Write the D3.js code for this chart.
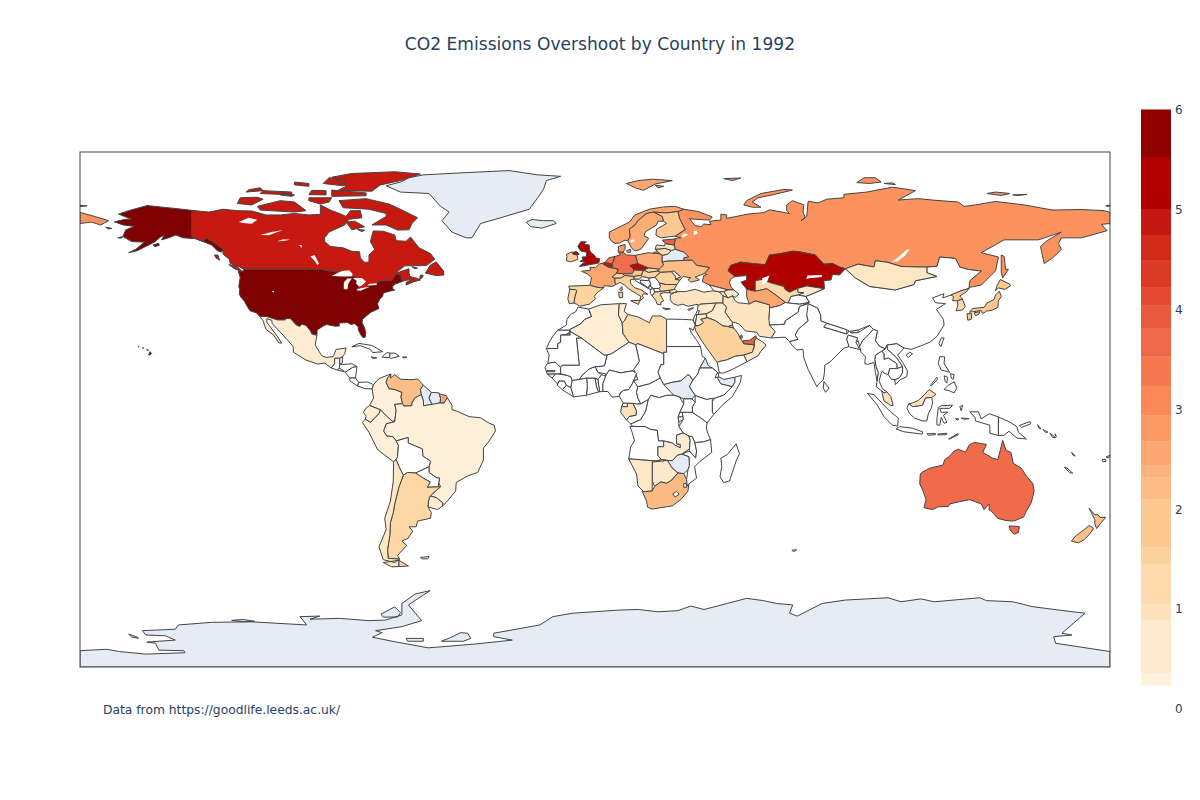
<!DOCTYPE html>
<html>
<head>
<meta charset="utf-8">
<script src="https://cdn.jsdelivr.net/npm/d3@7"></script>
<style>
  body { margin: 0; background: #fff; }
  text { font-family: "DejaVu Sans", Verdana, sans-serif; fill: #2a3f5f; }
</style>
</head>
<body>
<div id="chart"></div>
<script>
const titleText = 'CO2 Emissions Overshoot by Country in 1992';
const noteText = 'Data from https://goodlife.leeds.ac.uk/';

// overshoot values
const emitters = ['USA','Canada','Kazakhstan','UK','Czechia','Belgium','Germany','Netherlands','Estonia','UAE','Australia',
  'Russia','Denmark','Poland','Norway','Sweden','France','Turkmenistan','Ukraine','SouthAfrica','Venezuela','NewZealand',
  'Austria','Finland','Japan','NorthKorea','SaudiArabia','Ireland','Italy','Spain','Switzerland','Hungary','Romania','Bulgaria',
  'Greece','Portugal','Uzbekistan','SouthKorea','Libya','Argentina','Lithuania','Latvia','Malaysia','Gabon','Turkey','Iran',
  'Mongolia','Oman','Chile','Mexico','Namibia','Botswana','Syria','Iraq','Algeria','Zambia','Tunisia','Uruguay','Ecuador',
  'Colombia','Brazil','Peru','Kyrgyzstan','Slovakia','Georgia','Azerbaijan','Armenia','Jordan','Kuwait','Qatar','Slovenia'];
const emitterValues = [6,4.85,5.3,5.3,5.1,4.8,3.6,3.4,3.8,3.8,3.65,
  2.9,2.8,2.5,2.6,2.5,2.6,2.6,2.2,2.25,2.2,2.05,
  2,1.9,1.9,1.8,1.6,1.7,1.6,1.5,1.5,1.5,1.5,1.5,
  1.3,1.3,1.3,1.3,1.2,1.35,1.2,1,1,1,.9,.85,
  .8,.8,.8,.55,.75,.7,.6,.6,.45,.55,.5,.5,.5,
  .4,.4,.4,.7,1.4,.4,.7,.4,.5,1.5,3,1.2];
const noDataCountries = ['Greenland','Antarctica','Iceland','Belarus','Guyana','Suriname','SouthSudan','Eritrea','Somaliland','Zimbabwe','GuineaBissau','WesternSaharaStrip'];

// colorbar levels (value edges of the steps) and ticks
const barLevels = [6,5.52,5,4.74,4.49,4.22,4.04,3.81,3.53,3.23,2.94,2.68,2.44,2.32,2.1,1.62,1.45,1.05,.89,.36,.24];
const barTicks = [0,1,2,3,4,5,6];
const orRd = ['#fff7ec','#fee8c8','#fdd49e','#fdbb84','#fc8d59','#ef6548','#d7301f','#b30000','#7f0000'];

// country outlines as flat lon,lat rings
const shapes = {
USA:[[-124.7,48.4,-123,48.3,-122.8,49,-95.2,49,-94.6,48.7,-92,48.3,-89.6,48,-88.4,48.3,-84.9,46.9,-84.3,46.5,-83.6,46,-82.5,45.3,-82.1,43.6,-82.5,42.6,-83.1,42.1,-82.4,41.7,-79,42.8,-79.2,43.5,-76.8,43.6,-76.3,44.2,-75,45,-71.5,45,-70.8,45.4,-70,46.7,-69.2,47.4,-68.3,47.3,-67.8,47,-67.8,45.7,-67,44.9,-68.5,44.3,-70,43.8,-70.7,43,-70.7,42.2,-70,41.7,-71.5,41.4,-74,40.7,-74.2,39.6,-75.2,38.6,-75.9,37.2,-76,36.9,-75.5,35.3,-77,34.6,-78.5,33.9,-79.9,32.7,-81.3,31.5,-81.4,30.4,-80.5,28.4,-80.1,26.8,-80.3,25.3,-81.1,25.1,-81.8,26,-82.7,27.8,-82.8,29,-84,30,-85.3,29.7,-86.5,30.4,-88,30.3,-89.5,30.2,-89.3,29.2,-90.8,29.1,-93.8,29.7,-94.8,29.3,-97.1,27.8,-97.2,25.9,-99,26.4,-99.5,27.5,-101,29.4,-102.5,29.8,-103.2,29,-104.5,29.6,-106.5,31.8,-108.2,31.8,-108.2,31.3,-111,31.3,-114.8,32.5,-117.1,32.5,-118.4,33.8,-120.6,34.5,-121.9,36.6,-122.5,37.8,-123.8,39.3,-124.3,40.4,-124.2,42,-124.5,43,-124,46.2],
 [-141,69.6,-141,60.3,-137.5,58.9,-135.5,59.8,-133.5,58.5,-130,56,-130.5,55,-132,55.5,-134,57.5,-136,58.3,-139.5,59.7,-144,60,-146.5,61,-149,60,-151.5,59.3,-150.5,61,-152,60.2,-154,58.5,-157,57,-160,55.5,-163,54.8,-160.5,56,-157.5,58.5,-162,58.7,-165,60.5,-164,62.8,-161,64,-165,64.5,-168,65.6,-164,66.5,-162,66.5,-166.5,68.3,-163,69.5,-156.5,71.3,-152,70.8,-146,70.2],
 [-154.5,57.5,-152.5,58.1,-152.3,57.4,-153.8,56.9],[-171,63.7,-168.8,63.3,-170,63.1],[-166.8,60,-165,60.5,-165.5,59.9],
 [-156,19.1,-155.6,20.2,-155,19.7,-155.6,19],[-156.7,20.9,-156,20.8,-156.4,20.6],[-158.2,21.5,-157.7,21.4,-158,21.7],[-159.7,22,-159.3,22.1,-159.5,21.9]],
Canada:[[-141,69.6,-135,69,-130,70,-125,69.5,-120,69.4,-115,68,-110,68,-105,68.5,-100,68,-96,68.2,-96,71.5,-92,69.5,-90,68.8,-87,67.5,-85.5,69.5,-82,69.5,-81.5,67,-86,66.5,-87.5,64.5,-93,62,-94.5,60,-94.5,58.7,-92.5,57,-88,56.5,-85,55.3,-82.3,55.1,-82,53,-80.7,51.5,-79,51.5,-79,54,-77,56,-78.5,58.7,-77.5,62.4,-74,62.3,-70,61,-69.5,59,-66,58.8,-64.5,60.3,-61.5,56.5,-57.5,54.5,-56,52.5,-59,50.3,-66.5,50.2,-70,47.5,-65,49.2,-65,47.8,-64.8,46.5,-62,45.8,-61,45.3,-63.5,44.6,-66,43.5,-66,44.4,-64,45.5,-67,45,-67.8,45.7,-67.8,47,-68.3,47.3,-69.2,47.4,-70,46.7,-70.8,45.4,-71.5,45,-75,45,-76.3,44.2,-76.8,43.6,-79.2,43.5,-79,42.8,-83.1,42.1,-82.5,42.6,-82.1,43.6,-82.5,45.3,-83.6,46,-84.3,46.5,-84.9,46.9,-88.4,48.3,-89.6,48,-92,48.3,-94.6,48.7,-95.2,49,-122.8,49,-124.5,50,-127.5,51,-127.8,52.5,-130,54.3,-130,56,-133.5,58.5,-135.5,59.8,-137.5,58.9,-141,60.3],
 [-128,50.6,-125.3,50.2,-123.5,48.4,-125.5,48.9],[-133,54,-131.8,54,-131.2,52.2,-132.5,53],[-59.3,47.7,-57.5,50.5,-55.5,51.6,-53,48.5,-52.8,47,-55.5,46.8],[-64,49.9,-62,49.4,-63,49.2],[-61,47,-60,46.9,-60.5,45.9,-61.3,45.8],
 [-80,73.7,-72,71.8,-68,70,-62,67,-64,65,-65,62.8,-69,62.7,-73,64.5,-78,64.5,-73,67.5,-73,68.5,-79,70,-88,70.5,-89.5,73],[-87,65.5,-84,65.8,-80.5,63.9,-85,62.8],[-83,62.9,-80.5,62.7,-81.5,62.2],[-117,69.7,-105,69,-101,69.5,-105,72.5,-110,73,-118,71],[-125,72,-120,71.5,-116,73.5,-118,74.2,-124,74],[-117,75.5,-106,75,-106,76,-116,76.5],[-92,74.5,-80,74.7,-80,75.7,-92,76.7],[-90,76.5,-78,76.3,-75,78.5,-68,80,-61,82.3,-70,83.1,-85,82.5,-92,81.2,-87,78],[-95,79,-88,78.2,-87,80.5,-93,81],[-100,73,-96,71.8,-93,72.5,-92,74,-100,74],[-105,78.5,-100,78,-100,79,-105,79.5],[-122,76,-116,76.5,-117,77.5,-121,76.8],[-100,75.1,-94,75,-94,76.5,-99,76.6],[-110,75,-106,74.5,-105,75,-109,75.6]],
Greenland:[[-73,78.2,-68,76,-58,75.5,-54,71,-51,69,-53.5,66,-50,62,-45,60,-43,60,-40,65,-33,67,-23,70,-20,74,-18,77,-17,80,-12,81.5,-20,82,-30,83.5,-45,82.8,-60,82,-65,81,-68,79.5]],
Iceland:[[-24,65.5,-22,66.4,-18,66,-14.5,66,-13.6,65,-18.5,63.4,-22.5,63.9]],
Antarctica:[[-180,-84.3,-170.8,-83.8,-166.2,-84.6,-157,-85.5,-143.3,-85,-143.7,-84.3,-152.4,-84.1,-153.6,-81.7,-156.6,-81.3,-146.7,-80.6,-150.2,-79.1,-157,-78.8,-158.2,-77.3,-146.7,-76.8,-145.6,-75.3,-134.1,-74.4,-120.3,-74.2,-100.8,-75.3,-103.1,-72.4,-96.2,-72.2,-99.6,-73.3,-89.3,-73,-79,-73.8,-73.2,-73.6,-67.5,-71.8,-67.5,-67.8,-62.9,-64.5,-57.6,-63.3,-65.2,-68.3,-60.6,-73.8,-67.5,-75.9,-76.7,-77.3,-74.4,-78,-77.8,-79.6,-69.8,-81.2,-58.3,-83.3,-42.2,-82,-28.9,-80.6,-35.4,-79.4,-35.4,-78.2,-19.3,-75.3,-14.7,-72.4,-7.8,-71.2,8.3,-70.1,15.2,-69.9,22,-70.7,29,-70.3,33.5,-68.7,38.1,-69.9,46.2,-67.8,53,-66,58.8,-66.8,63.4,-67.8,69.1,-68.3,68,-71.2,70.7,-72.2,79.4,-67.8,87.5,-66.6,102.4,-65.8,107,-67.2,113.9,-66.2,118.5,-67.2,134.5,-65.8,136.8,-66.8,146,-67.2,152.9,-68.9,162.1,-70.1,171.3,-71.2,163.2,-78.2,166.7,-78.8,160.3,-79.4,161,-81.7,180,-84.6,180,-90,-180,-90],
 [-53.7,-81,-50,-79.5,-47,-78,-44.5,-78.2,-43.4,-80,-46,-81],[-66,-80,-60,-80,-60,-81,-65.5,-81],[-74.8,-71.5,-70,-69,-68,-71,-69,-72.5,-74,-72.6],[-163,-78.5,-160,-79.5,-159.5,-80,-162,-79.5],[-127,-73.7,-123,-73.4,-119,-74,-123,-74.2]],
Russia:[[28,59.8,30,60,28,60.6,31.5,62.9,29.5,66.9,29,69.2,31,70,36,69.2,41,67.3,40,66.2,35,66.5,33,66.7,35,64.3,37,63.9,38,64.8,40.5,64.6,40,65.8,44,66.2,44,68.3,46,68,46,66.8,53.5,68.3,59,68.8,61,69.8,68,68.5,67,69.6,67,71.5,69,73,73,71.5,72.7,69,73.5,67,72,66,74,67.5,74.5,72.8,78,72.2,81,73.5,87,74,87,75.2,95,76,104,77.7,112,76.5,106,73.2,113,73.7,118,73.2,127,72.5,129,71,133,71.5,140,72.7,150,71.5,160,69.7,170,69.9,178,69.5,180,68.9,180,65,177,64.7,179,62.5,170,60,163,60,162,58,163,56,160,53,157,51,155.7,57,158,59,163,62,155,59.3,143,59.3,135,54.8,141,53.3,140,48.5,135,43.5,131,42.7,130.7,42.3,131,45,135,48.4,130.5,48.9,127.5,49.8,126,52.8,120.5,53.3,119.5,50,116,49.8,113,49.8,107,50,102,51.5,98,52,97.5,49.8,92,50.8,87.5,49.2,85.5,49.8,83,51,80,50.8,77,54,71,55.2,69,55.3,65,54.5,61,54,59.5,50.6,55,51,51,51.5,47.5,50.4,46.5,48.5,49,46.5,48,46,47.5,45.5,47,44.5,47.5,43,48.5,41.8,46.5,41.8,43.5,42.6,40,43.5,37.5,44.7,38,46.8,39.2,47.2,38.2,47.5,40,49.6,35.5,50.4,34,52.2,31,52.1,31,53,32.7,53.4,31,55,28,56,27.7,57.5],
 [-180,68.9,-175,67.5,-170,66,-172.8,64.5,-176,65.5,-180,65],[20,54.4,22.8,54.4,22,55.2,20.5,54.9],[142,54,143,53.5,143.5,49,144.5,49,142.5,46,142,48],[52,71.5,55,70.7,58,70.7,55,72.5,57,74,62,75,69,76.7,66,76.9,58,75.5,53,73],[45,80.7,51,80.9,48,80],[91.5,79.3,96,79,100,79.5,98,81,94,81],[101,79,105,78.6,104,79.2],[137,75.5,140,76,145,75.5,142,74.8],[146,75,151,75.2,148,74.8],[178.5,71.2,180,71.4,180,70.9],[-180,71.4,-177.5,71.2,-180,70.9]],
Norway:[[5.6,59,7,58,8.5,58.2,10.5,59.2,11.5,59,12.3,60.5,12,63,14,64.5,15,66,18,68.5,20.5,69,25,68.7,29,69.2,31,70,28,71,24,70.8,19,70,14,68,12,65.5,8,63.5,5,62,5,60],
 [11,79,14,77.5,17,76.6,21,78.8,27,80,20,80.5,15,80],[21,78.4,24,78,22,77.5]],
Sweden:[[11.5,59,12.7,56.5,14,55.4,16,56,18.8,59.8,17.2,60.7,17.5,62,21.5,64.5,22,65.8,24,65.8,23.5,67.5,20.5,69,18,68.5,15,66,14,64.5,12,63,12.3,60.5]],
Finland:[[24,65.8,25,65,21.5,63,21.3,61,23,60,28,60.6,31.5,62.9,29.5,66.9,29,69.2,25,68.7,20.5,69,23.5,67.5]],
Denmark:[[8.1,55,8.2,57,10.5,57.7,10.5,56,9.8,55],[11,55.5,12.5,56,12.4,55,11.5,54.8]],
UK:[[-5.5,50,-3.5,50.3,1.3,51.2,1.7,52.7,.2,53,0,53.7,-1.5,55,-2,56,-2,57.5,-4,57.7,-3,58.6,-5,58.6,-6,57,-5,55.4,-3,55,-3,54,-3,53.4,-4.5,53.3,-4.2,52.3,-5.2,51.8,-3,51.4,-4.2,51.1],[-5.5,54.3,-6.5,55.2,-7.5,55,-7.9,54.4,-6.5,54]],
Ireland:[[-6.2,53.9,-6,52.5,-8.5,51.6,-10,52,-9.8,53.5,-10,54.2,-8.3,55,-7.5,55,-7.9,54.4,-6.5,54]],
France:[[-1.8,43.4,-1.2,46,-2.5,47.3,-4.7,48.3,-1.5,48.7,-1.8,49.7,.2,49.6,1.6,50.9,2.5,51.1,4.2,50,5.8,49.5,8.2,49,7.5,47.6,6,46.3,7,45.9,7,44.3,7.5,43.8,6,43,3.2,43.3,3,42.5,.7,42.7],[8.6,42,9.4,43,9.5,41.8,9.2,41.4],[-54.5,5.5,-52,4.8,-51.6,4.1,-52.8,2.2,-54.2,2.3,-54,3.7]],
Spain:[[-9.2,43.1,-1.8,43.4,.7,42.7,3,42.5,.7,40.8,-.3,39.5,.2,38.7,-2,36.8,-5.3,36.1,-6.4,36.8,-7.4,37.2,-7,39.6,-6.4,41.5,-6.9,41.9,-8.8,42]],
Portugal:[[-8.8,42,-6.9,41.9,-6.4,41.5,-7,39.6,-7.4,37.2,-9,37,-9.5,38.7]],
Germany:[[6,51,7,53.5,8.8,54,8.5,55,10,54.8,11,54,14.2,53.9,14.7,52,15,51,12.2,50.3,13.8,48.8,13,47.5,10,47.4,7.5,47.6,8.2,49,6.2,49.5]],
Netherlands:[[3.5,51.4,4.8,53,7,53.5,6,51,6,50.8,4,51.3]],
Belgium:[[2.5,51.1,3.5,51.4,4,51.3,6,50.8,5.8,49.5,4.2,50]],
Switzerland:[[6,46.3,7.5,47.6,9.6,47.5,10.4,46.8,9,45.9,7,45.9]],
Austria:[[9.6,47.5,10,47.4,13,47.5,13.8,48.8,17,48.7,16.2,46.9,13.7,46.5,10.4,46.8]],
Czechia:[[12.2,50.3,15,51,18.8,49.5,17,48.7,13.8,48.8]],
Slovakia:[[17,48.7,18.8,49.5,22.5,49.1,22,48.4,18.7,47.9]],
Poland:[[14.2,53.9,18.5,54.8,22.8,54.4,23.5,53.9,23.5,51.5,24,50.5,22.5,49.1,18.8,49.5,15,51,14.7,52]],
Hungary:[[16.2,46.9,17,48.7,18.7,47.9,22,48.4,22.9,48,21,46.2,18.8,45.9,16.5,46.5]],
Italy:[[7,45.9,9,45.9,10.4,46.8,13.7,46.5,13.6,45.6,12.3,45.3,12.5,44,14,42.5,16,41.9,18.5,40.2,17,40.5,16.5,39.7,17,39,15.7,38,16,39.5,14,40.8,12,42,10.3,43.5,8.8,44.4,7.5,43.8,7,44.3],[12.5,38,15.6,38.2,15.2,36.7],[8.3,41,9.7,41,9.6,39.2,8.5,39]],
Slovenia:[[13.6,45.6,13.7,46.5,16.2,46.9,16.5,46.5,15.5,45.5]],
Croatia:[[13.6,45.6,15.5,45.5,16.5,46.5,18.8,45.9,19,45,16,45.2,15.8,44.5,18.4,42.5,15,44.5,14,45.1]],
Bosnia:[[16,45.2,19,45,19.5,44,18.5,42.6,15.8,44.5]],
Serbia:[[18.8,45.9,21,46.2,22.5,44.5,22.9,43,22.4,42.3,20.5,42.3,19.3,43,19.5,44,19,45]],
Montenegro:[[18.4,42.5,19.3,43,20,42.6,19.3,41.9]],
Albania:[[19.3,41.9,20.5,42.3,20.9,41,20,39.7,19.4,40.5]],
Macedonia:[[20.5,42.3,22.4,42.3,23,41.3,20.9,41]],
Greece:[[20,39.7,20.9,41,23,41.3,26.3,41.7,26,40.8,24,40.8,22.7,40.4,23.3,39.2,24,38,23,37.5,23,36.5,21.7,36.8,21.2,38.2],[23.6,35.5,26.3,35.2,24.8,34.9]],
Bulgaria:[[22.4,42.3,22.9,43,22.5,44.2,25,43.7,28.6,43.7,27.7,42,26.3,41.7,23,41.3]],
Romania:[[21,46.2,22.9,48,26.7,48.2,28.2,46.5,28.2,45.5,29.7,45.2,28.6,43.7,25,43.7,22.5,44.2]],
Moldova:[[26.7,48.2,27.5,48.5,30,46.4,28.2,45.5,28.2,46.5]],
Ukraine:[[24,50.5,23.5,51.5,25,51.9,31,52.1,34,52.2,35.5,50.4,40,49.6,38.2,47.5,35,46.3,36.5,45.3,33.5,44.5,32.5,45.4,33.5,46,30.8,46.5,29.7,45.2,28.2,45.5,30,46.4,27.5,48.5,26.7,48.2,22.9,48,22,48.4,22.5,49.1]],
Belarus:[[23.5,53.9,25.5,54.3,26.7,55.6,28,56,31,55,32.7,53.4,31,53,31,52.1,25,51.9,23.5,51.5]],
Lithuania:[[21,56,24.5,56.3,26.7,55.6,25.5,54.3,23.5,53.9,22.8,54.4,22,55.2]],
Latvia:[[21,56,21.5,57.5,24.3,57.2,24.5,58,27.7,57.5,28,56,26.7,55.6,24.5,56.3]],
Estonia:[[23.5,59.2,28,59.6,27.7,57.5,24.5,58,24.3,58.3]],
Turkey:[[26.3,40,28,41,29,41.2,31.5,41.2,35,42,38,41,41.5,41.5,43.5,41.1,44.8,39.7,44.7,37.2,42.3,37.2,36.7,36.8,36,36,36,36.8,32.5,36.1,30.6,36.8,29,36.4,27.3,37,26.3,38.3],[26.1,40.6,26.3,41.7,28,42,28.9,41.1]],
Cyprus:[[32.4,35,34.5,35.6,33.7,34.9,32.8,34.6]],
Georgia:[[40,43.5,43.5,42.6,46.5,41.8,45,41.2,43.5,41.1,41.5,41.5]],
Armenia:[[43.5,41.1,45,41.2,46.5,39,44.8,39.7]],
Azerbaijan:[[45,41.2,46.5,41.8,48.5,41.8,50.3,40.3,49,39.2,48,39.7,46.5,39]],
Syria:[[36,36,36.7,36.8,42.3,37.2,41,34.5,38.8,33.4,36,33.2,35.8,35]],
Lebanon:[[35.1,33.1,36,33.2,36.5,34.5,35.8,34.6]],
Israel:[[34.3,31.3,35,33.1,35.6,33.1,35,29.5]],
Jordan:[[35,29.5,35.6,33.1,36,33.2,38.8,33.4,39.2,32.1,37,31.5,38,30.5,37.5,30,36,29.2]],
Iraq:[[38.8,33.4,41,34.5,42.3,37.2,44.7,37.2,46,35.7,45.5,34,48,30.5,48,29.5,46.5,29,44.7,29.2,42,31.1,39.2,32.1]],
Iran:[[44.8,39.7,46.5,39,48,39.7,49,38,50,37.3,53.9,36.9,56,38,61,36.6,61,34.5,60.8,31.5,63,27.2,61.6,25,57.5,25.6,56.5,27,52.5,27.5,50.5,29.8,49,30.4,48,30.5,45.5,34,46,35.7,44.7,37.2]],
SaudiArabia:[[34.8,29.3,36,29.2,37.5,30,38,30.5,37,31.5,39.2,32.1,42,31.1,44.7,29.2,46.5,29,48.5,28.5,50,26.5,50.8,24.8,52,23,55.2,22.7,55.7,22,55,20,52,19,49,18.6,46,17.3,43.2,16.7,42.7,16.4,40.5,19.5,39,21.5,37,24.5,35.2,27.5]],
Kuwait:[[46.5,29,48,29.5,48.5,28.5]],
Qatar:[[50.8,24.8,51.5,25,51.3,26.1,50.8,25.8]],
UAE:[[51.6,24,54,24.2,56.3,25.8,56.4,24.9,55.7,24,55.7,22,55.2,22.7,52,23]],
Oman:[[56.4,24.9,58.6,23.6,59.8,22.5,58,20.4,57,18.8,53.1,16.7,52,19,55,20,55.7,22,55.7,24]],
Yemen:[[42.7,16.4,43.2,16.7,46,17.3,49,18.6,52,19,53.1,16.7,48,14,45,12.8,43.5,12.7]],
Kazakhstan:[[47.5,50.4,51,51.5,55,51,59.5,50.6,61,54,65,54.5,69,55.3,71,55.2,77,54,80,50.8,83,51,85.5,49.8,87.5,49.2,85.5,47,83,47.2,82.5,45.3,80,45,80.2,42.2,74,43.2,70.8,42.3,68,41,66.5,41.9,66,43,61,44.4,58.5,45.5,56,45,56,41.3,53,42,52.5,42.7,51,44.5,53,45.3,53,46.8,49,46.5,46.5,48.5]],
Uzbekistan:[[56,45,58.5,45.5,61,44.4,66,43,66.5,41.9,68,41,70.8,42.3,71,41,73,40.8,71,40,68.5,39.5,67.5,37.2,66.5,37.4,64.5,39,61.5,41.2,60,42.2,56,41.3]],
Turkmenistan:[[53,42,56,41.3,60,42.2,61.5,41.2,64.5,39,66.5,37.4,64.5,36.3,61,35.5,61,36.6,56,38,53.9,36.9,53,39.5,53,40.5]],
Kyrgyzstan:[[70.8,42.3,74,43.2,80.2,42.2,76,40.4,73.7,39.5,71,40,73,40.8,71,41]],
Tajikistan:[[68.5,39.5,71,40,73.7,39.5,75,37.4,71.5,36.8,67.8,37.2,67.5,37.2]],
Afghanistan:[[60.8,31.5,61,34.5,61,35.5,64.5,36.3,66.5,37.4,67.8,37.2,71.5,36.8,75,37.4,71.5,36,71,34,69.5,33,66.5,31,66.3,29.8,61,29.5]],
Pakistan:[[61,29.5,66.3,29.8,66.5,31,69.5,33,71,34,71.5,36,74.5,37,77.8,35.5,74,33,74.5,31,71,28,70,26,71,24.5,68,23.7,66.5,25.3,61.6,25,63,27.2]],
India:[[74.5,37,77.8,35.5,78.9,33,79,31,81,30.2,80,28.8,88,26.4,88.8,27.5,89.5,26.8,92,26.9,96,29.4,97.3,28,95,25.5,93.5,24,92.5,22,92,24,91.2,23.5,91.8,25,88.5,26,88,24.5,88.8,22,87,21.4,85,19.5,82,16.5,80.3,15.5,80.2,13,79.8,10.4,78,8.7,77.5,8,76,11,74.5,14,73,18,72.7,21,70.5,20.8,69,22.3,68,23.7,71,24.5,70,26,71,28,74.5,31,74,33]],
Nepal:[[80,28.8,81,30.2,88,27.9,88,26.4]],
Bhutan:[[89,27.3,92,27.8,92,26.9,89.5,26.8]],
Bangladesh:[[88,24.5,88.5,26,91.8,25,91.2,23.5,92.5,21,89,21.8,88.8,22]],
SriLanka:[[80,9.7,81.8,7.5,80.6,6,79.8,7.5]],
China:[[74.5,37,75,37.4,73.7,39.5,76,40.4,80.2,42.2,80,45,82.5,45.3,83,47.2,85.5,47,87.5,49.2,91,46,96,43,105,41.8,111.5,43.7,112,45,119.5,46.5,116,47.8,116,49.8,119.5,50,120.5,53.3,126,52.8,127.5,49.8,130.5,48.9,135,48.4,131,45,130.7,42.3,128,41.5,124.4,40,121.5,39,122,40.5,118,39,119,37.3,122.5,37,119.3,35,121.8,31.5,122,29.5,119.5,25.5,117,23.5,114,22.3,110.5,21,108,21.5,105.5,23,102,22.5,101.5,21.2,99.5,22,98,24,98.7,27.5,97.3,28,96,29.4,92,27.8,89,27.3,88,27.9,81,30.2,79,31,78.9,33,77.8,35.5],[108.7,19,110,20,111,19.5,109.5,18.2]],
Taiwan:[[120.2,23,121,25,122,25,120.9,22]],
Mongolia:[[87.5,49.2,92,50.8,97.5,49.8,98,52,102,51.5,107,50,113,49.8,116,49.8,116,47.8,119.5,46.5,112,45,111.5,43.7,105,41.8,96,43,91,46]],
NorthKorea:[[124.4,40,128,41.5,130.7,42.3,129.7,41,127.5,39.7,128.4,38.6,126.7,38,125,38,125.3,39.5]],
SouthKorea:[[126.7,38,128.4,38.6,129.4,36,128.5,34.8,126.3,34.5,126.8,36.5]],
Japan:[[130.9,34,132,35.3,136,35.7,137,37.2,139.5,38.5,140,40,141.3,41.4,142,39.5,141,38,140.8,35.7,138.8,34.7,136.9,34.4,135.5,33.5,135,34.6,132.3,34.2],[140,41.5,140.5,43.3,141.7,45.4,145,43.8,145.2,43.2,143.3,42,141,42.5],[130,33.5,131.7,33.5,131.5,31.5,130.3,31.2],[132.5,33.8,134.5,34.2,134.2,33.3,133,32.8]],
Vietnam:[[102,22.5,105.5,23,108,21.5,105.8,19,107.5,16.5,109.2,13.5,109,11.5,106.7,10.4,105,8.7,104.8,10.4,106.5,11.2,107.5,13,107.5,15,105.5,18,103.9,19.5,102.2,21]],
Laos:[[100.2,20.4,101.5,21.2,102,22.5,102.2,21,103.9,19.5,105.5,18,107.5,15,105.5,14.3,105.5,16,102.5,18,101,17.5,101,19.5]],
Thailand:[[100,20.3,100.2,20.4,101,19.5,101,17.5,102.5,18,105.5,16,105.5,14.3,103,14.3,102.5,12.2,101,12.7,100.5,13.5,100,12.5,99.3,10,100.5,7.2,102,6.2,101,5.7,100.2,6.5,98.3,8,98.7,11,99,13,98.2,15,97.8,17.5,98,19]],
Cambodia:[[102.5,12.2,103,14.3,105.5,14.3,107.5,15,107.5,13,106.5,11.2,104.8,10.4,103.5,10.6]],
Myanmar:[[92.5,22,93.5,24,95,25.5,97.3,28,98.7,27.5,98,24,99.5,22,101.5,21.2,100.2,20.4,100,20.3,98,19,97.8,17.5,98.2,15,99,13,98.7,11,98.6,10,98,13,97.5,16.5,95.5,15.8,94.3,16,94.5,18.5,93,20]],
Malaysia:[[100.2,6.5,101,5.7,102,6.2,103.4,4.5,104.2,1.4,103.4,1.4,101,3,100.4,5.5],[109.7,2,111.3,2.4,113,3.2,115,5,116.8,7,119.2,5.3,117.7,4.2,115.5,4,114.5,1.5,113,1.2,111,1]],
Indonesia:[[109,.5,109.7,2,111,1,113,1.2,114.5,1.5,115.5,4,117.7,4.2,118,2.3,117.5,.5,116.5,-1.5,116,-4,114.5,-4,111.7,-3,110,-1.5],[95.3,5.6,97.5,5.2,100.5,2,103.5,-1,106,-3,105.8,-5.8,104,-5.5,101,-2.5,98.7,1.5],[105.2,-6.8,106.5,-6,110.8,-6.5,114.5,-7.8,114.4,-8.6,108,-7.8],[119.5,-3.4,120,.7,121,1.3,125,1.5,124,.4,120.5,.4,121,-1,123.3,-.9,121.8,-2,123,-4.5,122,-4.8,121,-2.8,120.5,-5.5,119.5,-5.4],[116,-8.5,119,-8.4,119,-8.8,116.7,-9],[119.8,-8.6,123,-8.3,122.8,-8.8,119.9,-8.9],[123.6,-10.3,126.9,-8.4,127,-8.8,124,-10.3],[131,-.8,134,-.8,135,-3.3,137.8,-1.5,141,-2.6,141,-9.1,138,-8.3,138,-5.5,133,-4,132.8,-2.8],[127.5,1,128.5,1.5,128,-.5],[128,-3,130.8,-3.2,129,-3.4],[126,-3.2,127.2,-3.3,126.6,-3.7]],
PNG:[[141,-2.6,145,-4.4,147.5,-6,148,-8,150.8,-10.3,147.5,-10,144.7,-7.6,143,-9,141,-9.1],[148.3,-5.6,152,-4.2,152.3,-5,149,-6.3]],
Philippines:[[120.5,18.5,122.2,18.4,122,16,124,13,121,13.8,120,16],[122,7,123.5,8.5,125.5,9.7,126.5,7.5,125.5,5.8,124,6.5],[117.2,8.4,119.5,11.3,119.7,10.5,117.6,8.3],[124.3,12.5,125.5,12.2,125.2,10.5,124.5,11],[122,11.8,123.2,11.3,123,9.2,122.4,9.8]],
Solomon:[[154.7,-5.3,155.9,-6.8,155.2,-6.5],[156.5,-7,158.3,-7.9,157.5,-8],[159,-8.3,161,-9.8,160,-9.8],[160.8,-8.5,161.3,-9.5,160.9,-9.2]],
Vanuatu:[[166.6,-15,167.2,-15.5,167.8,-16.3,167,-15.9]],
NewCaledonia:[[164,-20.2,165,-20.5,167,-22.3,166,-22.1]],
Fiji:[[177.3,-17.5,178.5,-17.4,178.6,-18.2,177.4,-18.2],[178.6,-16.6,180,-16,179.4,-17]],
Australia:[[113.7,-22.5,114.2,-22,116.8,-20.6,119,-20,121.5,-19.5,122.3,-17.5,124,-16.3,125.5,-14.5,127,-13.9,129.5,-14.9,130.8,-12.4,132.6,-11.5,136.8,-12.2,135.5,-15,139,-17,140.8,-17.5,141.7,-14,142.5,-10.8,143.7,-14.3,145.4,-15,146.2,-18.8,149,-20.5,150.8,-23.3,153,-25.8,153.5,-28.5,152.5,-32.5,150.5,-36,149.9,-37.5,146.4,-39,143.5,-38.8,140.7,-38,138.5,-35.5,137.8,-35.2,137.7,-33,136,-35,135,-33,131,-31.5,127,-32.3,124,-33,123.5,-33.9,120,-34,118,-35,115,-34.3,115.7,-31.5,114.7,-28.5,113.5,-26],[144.7,-40.7,148.3,-40.9,148,-43,146.5,-43.6,145.3,-42.5]],
NewZealand:[[172.7,-34.5,174.7,-36.8,175.8,-36.7,176.5,-37.7,178.5,-37.7,177,-39.5,175.3,-41.6,174.7,-39.8,174.7,-38.5],[172.7,-40.5,174.3,-41.6,172.8,-43.6,171,-45.5,169,-46.6,166.5,-46,168,-44.2,171,-42]],
Morocco:[[-5.9,35.8,-2.2,35.1,-1.2,32.5,-3.6,31.5,-5,29.9,-8.7,28,-8.7,27.7,-13,27.7,-10,29.5,-9.8,31.5,-8.5,33.3,-6.8,34.1]],
WesternSahara:[[-13,27.7,-8.7,27.7,-8.7,26,-12,26,-12,23.5,-13,23,-13,21.3,-17,21.3,-16,23.5,-14.5,26]],
WesternSaharaStrip:[[-8.7,27.7,-8.7,26.5,-12,25.9,-12,23.5,-13,23,-13,21.5,-12.5,22.5,-11.6,25,-9,27]],
Algeria:[[-2.2,35.1,2,36.6,8.5,37,8.2,33,9.5,30.3,9.8,26.5,11.9,23.5,5.8,19.5,4.2,19,3.2,19,-4.8,25,-8.7,27.3,-8.7,28,-5,29.9,-3.6,31.5,-1.2,32.5]],
Tunisia:[[8.5,37,11,37,10.2,34.3,11.5,33.2,10.3,31,9.5,30.3,8.2,33]],
Libya:[[9.5,30.3,10.3,31,11.5,33.2,15.2,32.3,19,30.3,20,32.7,23,32.7,25,31.6,25,20,24,20,24,19.5,15,23,14.2,22.6,11.9,23.5,9.8,26.5]],
Egypt:[[25,31.6,31,31.5,34.2,31.3,35,29.5,34.3,27.7,33,28.5,33.6,27,35.7,23.9,36.9,22,25,22]],
Sudan:[[24,19.5,24,20,25,20,25,22,36.9,22,37.5,18.5,38.6,18,36.5,14.3,36,12.5,34.2,10.2,33,12,32.3,12,30,10,27,9.5,24,8.7,22.8,11,22,13,23,15.7,24,15.7]],
SouthSudan:[[24,8.7,27,9.5,30,10,32.3,12,33,12,34.2,10.2,33,8,35,5,33.9,3.7,31,3.7,29.5,4.4,27.5,5,25,5]],
Eritrea:[[36.5,14.3,38.6,18,39.5,15.5,43.1,12.7,41,14.5,38,14.5,37,14.5]],
Ethiopia:[[36,12.5,36.5,14.3,37,14.5,41,14.5,43.1,12.7,42.5,11.5,42.9,10.9,44,9,48,8,45,5,42,4,39,3.5,36,4.5,35,5,33,8,34.2,10.2]],
Djibouti:[[42,11,43.3,11.5,43.1,12.7,42.5,12.5]],
Somaliland:[[43.1,11.5,45,10.5,48.9,11.3,48.9,9.5,48,8,44,9,42.9,10.9]],
Somalia:[[48.9,11.3,51.2,11.9,50.8,9.5,48,4.5,45,2,41.5,-1.7,41,-.9,41,2.8,42,4,45,5,48,8,48.9,9.5]],
Kenya:[[35,5,36,4.5,39,3.5,41,3.9,41,-.9,41.5,-1.7,39.2,-4.7,37.7,-3.5,34,-1,34,1,35,2.5]],
Uganda:[[31,3.7,33.9,3.7,35,2.5,34,1,34,-1,30.5,-1,29.6,-1,31,2]],
Tanzania:[[30.5,-1,34,-1,37.7,-3.5,39.2,-4.7,38.9,-6.5,39.5,-8.5,40.4,-10.5,38,-11.3,34.9,-11.6,34,-9.5,32.8,-9.3,30.8,-8.2,29.3,-6,30.8,-3.5]],
Rwanda:[[29,-2.7,29.6,-1,30.5,-1,30.7,-2.4]],
Burundi:[[29,-2.7,30.7,-2.4,30.8,-3.5,29.3,-4.4]],
DRCongo:[[12.2,-6,13,-5.8,12.5,-5,13,-4.8,16,-3.5,17.7,-.5,18.6,3.5,19.5,5,22.5,4.2,25,5,27.5,5,29.5,4.4,31,2,29.6,-1,29,-2.7,29.3,-4.4,29.3,-6,30.8,-8.2,28.5,-9,28.5,-12,29.8,-12.2,29.8,-13.4,28,-12.5,27,-11.7,24,-11,22.2,-11,22,-9.7,21.8,-7.3,19.5,-7,17.5,-6,13,-5.9]],
Congo:[[11,-3.7,12.5,-5,13,-4.8,16,-3.5,17.7,-.5,18.6,3.5,16,2,14.5,2,13.2,2.2,14.5,-.5,14.3,-2,12,-2.4]],
Gabon:[[9.3,1.2,11.3,1,11.3,2.2,13.2,2.2,14.5,-.5,14.3,-2,12,-2.4,11,-3.7,9,-1]],
EqGuinea:[[9.4,1,11.3,1,11.3,2.2,9.8,2.3]],
Cameroon:[[8.5,4.6,9.8,2.3,11.3,2.2,13.2,2.2,14.5,2,16,2,15,4,14.5,6,15,8,13.5,10,15,10.5,14,13,14.5,12.5,13,9,11.8,7,10,6.7,8.8,5.8]],
CAR:[[14.5,6,15,4,16,2,18.6,3.5,19.5,5,22.5,4.2,25,5,27.5,5,24,8.7,22.8,11,19,9,15,8]],
Chad:[[14,13,15,10.5,13.5,10,15,8,19,9,22.8,11,22,13,23,15.7,24,15.7,24,19.5,15,23,14.2,22.6,15.5,16.8,13.5,14]],
Niger:[[3.7,11.7,3.7,12.5,1,13,0,15,1,15,3.3,15.3,4.2,19,5.8,19.5,11.9,23.5,14.2,22.6,15.5,16.8,13.5,14,13,13.5,9,12.8,5,13.8]],
Nigeria:[[2.7,6.3,4.5,6.3,6,4.3,8.5,4.6,8.8,5.8,10,6.7,11.8,7,13,9,14.5,12.5,14,13,13,13.5,9,12.8,5,13.8,3.7,11.7,2.7,9]],
Benin:[[1.6,6.2,2.7,6.3,2.7,9,3.7,11.7,2.3,12.2,1,10.5]],
Togo:[[1.2,6.1,1.6,6.2,1,10.5,0,11,.5,8]],
Ghana:[[-3,5,1.2,6.1,.5,8,0,11,-2.9,11,-2.7,8]],
BurkinaFaso:[[-2.9,11,0,11,1,10.5,2.3,12.2,1,13,0,15,-2,14.2,-4.5,12,-5.5,10.5]],
IvoryCoast:[[-7.5,4.4,-3,5,-2.7,8,-2.9,11,-5.5,10.5,-8,10.2,-8.5,7.7]],
Liberia:[[-11.4,6.9,-7.5,4.4,-8.5,7.7,-10,8.5]],
SierraLeone:[[-13.2,8.5,-11.4,6.9,-10,8.5,-10.7,10,-12.5,10]],
Guinea:[[-15,11,-13.2,9,-12.5,10,-10.7,10,-10,8.5,-8.5,7.7,-8,10.2,-8.5,11.5,-10,12,-13.7,12.5]],
GuineaBissau:[[-16.7,12.4,-13.7,12.5,-15,11]],
Senegal:[[-17.5,14.7,-16.5,16.2,-14,16.6,-12,14.8,-12,12.5,-13.7,12.5,-16.7,12.4]],
Gambia:[[-16.8,13.6,-14,13.6,-14,13.2,-16.8,13.2]],
Mali:[[-12,14.8,-11.5,15.5,-5.5,15.5,-6.5,25,-4.8,25,3.2,19,4.2,19,3.3,15.3,1,15,0,15,-2,14.2,-4.5,12,-5.5,10.5,-8,10.2,-8.5,11.5,-10,12,-12,12.5]],
Mauritania:[[-17,21.3,-13,21.3,-13,23,-12,23.5,-12,26,-8.7,26,-8.7,27.3,-4.8,25,-6.5,25,-5.5,15.5,-11.5,15.5,-12,14.8,-14,16.6,-16.5,16.2,-16,19]],
Angola:[[12.2,-6,13,-5.9,17.5,-6,19.5,-7,21.8,-7.3,22,-9.7,22.2,-11,24,-11,24,-13,22,-13,22,-16.2,23.4,-17.6,21,-18,13.9,-17.4,11.8,-17.3,12.5,-13,13.8,-11,13,-8]],
Zambia:[[22,-13,24,-13,24,-11,27,-11.7,28,-12.5,29.8,-13.4,29.8,-12.2,28.5,-12,28.5,-9,30.8,-8.2,32.8,-9.3,33.3,-10.8,33,-13.8,30.3,-15.6,28.8,-16,27,-17.9,25.3,-17.8,23.4,-17.6,22,-16.2]],
Malawi:[[32.8,-9.3,34,-9.5,34.9,-11.6,35.5,-14.5,35.2,-17,34.3,-16,33,-14.5,33,-13.8,33.3,-10.8]],
Mozambique:[[40.4,-10.5,40.8,-15,36.5,-18.3,34.8,-20,35.5,-24,32.8,-26,32.1,-26.8,32,-24.5,32.5,-21,33,-19.5,32.8,-16.5,30.3,-15.6,33,-14.5,34.3,-16,35.2,-17,35.5,-14.5,34.9,-11.6,38,-11.3]],
Zimbabwe:[[25.3,-17.8,27,-17.9,28.8,-16,30.3,-15.6,32.8,-16.5,33,-19.5,32.5,-21,31,-22.4,29,-22.2,27,-20.5]],
Botswana:[[20,-18.3,21,-18,23.4,-17.6,25.3,-17.8,27,-20.5,29,-22.2,26.8,-24.7,25,-25.8,23,-25.3,20.8,-26.9,20,-24.8,20,-22]],
Namibia:[[11.8,-17.3,13.9,-17.4,21,-18,23.4,-17.6,25.3,-17.8,21,-18.3,20,-18.3,20,-22,20,-24.8,20,-28.5,17,-28.7,15,-26.7,14.5,-22.5]],
SouthAfrica:[[16.5,-28.6,17,-28.7,20,-28.5,20.8,-26.9,23,-25.3,25,-25.8,26.8,-24.7,29,-22.2,31,-22.4,32,-24.5,32.1,-26.8,32.8,-26,32.5,-28.5,30,-31.5,27,-33.7,25,-34,20,-34.8,18.4,-34.2,18,-32]],
Lesotho:[[27.2,-29.5,28.5,-28.6,29.4,-29.6,28,-30.6]],
Swaziland:[[31,-25.8,32,-26,32,-27.2,31,-27.2]],
Madagascar:[[49.3,-12,50.5,-15.5,49.5,-17.5,47,-25,45,-25.5,43.7,-23.5,44.3,-20,44,-17,46.3,-15.7]],
Mexico:[[-117.1,32.5,-114.8,32.5,-111,31.3,-108.2,31.3,-108.2,31.8,-106.5,31.8,-104.5,29.6,-103.2,29,-102.5,29.8,-101,29.4,-99.5,27.5,-99,26.4,-97.2,25.9,-97.8,22.5,-95.5,18.8,-94,18.2,-91.5,18.5,-90.5,21,-87,21.5,-87.5,19.5,-88.3,18.4,-89.2,17.9,-91,17.9,-91,16,-92.2,14.5,-94.5,16.2,-97,15.9,-101,17.3,-105.4,20,-105.5,22,-109,26,-112.8,30,-113,31.2,-114.7,31.7,-114.7,30.5,-111,25.5,-109.5,23.2,-110.5,23.3,-112.3,26,-115,28,-116,31]],
Guatemala:[[-92.2,14.5,-91,16,-91,17.9,-89.2,17.9,-89.2,15.9,-88.3,15.7,-89.4,14.4,-90,13.8]],
Belize:[[-89.2,17.9,-88.3,18.4,-88.3,16.2,-89.2,15.9]],
Honduras:[[-89.2,15.9,-88.3,15.7,-85,16,-83.2,15,-84.7,14.7,-87.3,13,-89.4,14.4]],
ElSalvador:[[-90,13.8,-89.4,14.4,-87.8,13.5,-87.8,13.2]],
Nicaragua:[[-87.3,13,-84.7,14.7,-83.2,15,-83.7,11,-85.7,11]],
CostaRica:[[-85.7,11,-83.7,11,-82.6,9.5,-83,8.2,-85.7,10]],
Panama:[[-83,8.2,-82.6,9.5,-79.5,9.6,-77.4,8.7,-77.9,7.2,-80.4,7.3]],
Cuba:[[-85,21.9,-82.5,23.1,-78,22.4,-74.2,20.2,-77.7,19.9,-78.5,21,-82,22.3]],
Haiti:[[-74.4,18.3,-72.8,19.9,-71.7,19.7,-71.7,18.1]],
Dominican:[[-71.7,19.7,-69.9,19.7,-68.4,18.6,-71.4,17.8,-71.7,18.1]],
Jamaica:[[-78.3,18.4,-76.3,18,-77.5,17.8]],
PuertoRico:[[-67.2,18.4,-65.7,18.3,-67,18]],
Colombia:[[-77.4,8.7,-75.5,10.8,-72,12.2,-71.3,12.4,-72.5,11,-73,9.5,-72,7.3,-70,7,-67.5,6,-67.8,4.5,-67.3,2,-70,1.8,-69.5,-.3,-70,-4.2,-70.8,-4.1,-72.8,-2.4,-75,-.1,-78.8,1.4,-77.4,4,-77.9,7.2]],
Venezuela:[[-71.3,12.4,-71.5,11,-70,12.2,-68,10.6,-64,10.4,-62,10.7,-60,8.5,-61,7,-60.7,5.2,-63,4,-64,2.2,-64,1.3,-66.8,1.2,-67.3,2,-67.8,4.5,-67.5,6,-70,7,-72,7.3,-73,9.5,-72.5,11]],
Guyana:[[-60,8.5,-57.2,6,-58,4,-57,1.8,-59.9,1.3,-60,3,-60.7,5.2,-61,7]],
Suriname:[[-57.2,6,-54.5,5.8,-54,3.7,-54.2,2.3,-56,1.9,-57,1.8,-58,4]],
Brazil:[[-60.7,5.2,-60,3,-59.9,1.3,-57,1.8,-54.2,2.3,-52.8,2.2,-51.6,4.1,-50,1.5,-50,0,-48,-.7,-44,-2.5,-40,-2.9,-37,-4.8,-35.2,-5.5,-34.8,-7.5,-37,-11,-39,-13.5,-39,-17.7,-41,-22,-44.5,-23.2,-48.5,-25.5,-48.7,-28.5,-52,-32.5,-53.4,-33.8,-53.1,-32.7,-55.5,-30.8,-57.6,-30.2,-54,-27,-54.6,-25.5,-54.3,-24,-55.5,-23.8,-58,-22,-58,-20,-57.5,-18,-60.2,-16.3,-60.3,-13.8,-65.3,-11.7,-65.3,-9.8,-69.5,-11,-70.6,-9.5,-72.8,-9.3,-73.9,-7.5,-73,-5,-70,-4.2,-69.5,-.3,-70,1.8,-67.3,2,-66.8,1.2,-64,1.3,-64,2.2,-63,4]],
Ecuador:[[-78.8,1.4,-75,-.1,-75.5,-1.5,-78.5,-4.5,-80.3,-3.4,-80,-2.3,-81,-1,-80,.5]],
Peru:[[-81.3,-4.5,-80.3,-3.4,-78.5,-4.5,-75.5,-1.5,-75,-.1,-72.8,-2.4,-70.8,-4.1,-70,-4.2,-73,-5,-73.9,-7.5,-72.8,-9.3,-70.6,-9.5,-69.5,-11,-68.7,-12.5,-69,-16.5,-69.5,-17.5,-70.4,-18.3,-76,-14,-79,-8]],
Bolivia:[[-69.5,-11,-65.3,-9.8,-65.3,-11.7,-60.3,-13.8,-60.2,-16.3,-57.5,-18,-58,-20,-62.7,-22.2,-65.5,-22,-67,-23,-68.5,-20,-69.5,-17.5,-69,-16.5,-68.7,-12.5]],
Paraguay:[[-58,-20,-58,-22,-55.5,-23.8,-54.3,-24,-54.6,-25.5,-54.8,-27,-58.6,-27.2,-57.6,-25.3,-60,-24,-62.7,-22.2]],
Uruguay:[[-57.6,-30.2,-55.5,-30.8,-53.1,-32.7,-53.4,-33.8,-55,-35,-58.4,-34,-58.2,-32]],
Argentina:[[-65.5,-22,-62.7,-22.2,-60,-24,-57.6,-25.3,-58.6,-27.2,-54.8,-27,-54,-27,-57.6,-30.2,-58.2,-32,-58.4,-34,-57.2,-36,-57.5,-38,-62,-39,-62.5,-41,-65,-41,-63.7,-42.5,-65.3,-45,-67.5,-46,-65.8,-47.5,-69,-51,-68.3,-52.3,-72.3,-52,-72.5,-49,-71.7,-44,-71.5,-39.5,-70.5,-36,-70,-33,-68.5,-27,-67,-23],[-68.6,-52.7,-65.2,-54.7,-68.6,-54.9]],
Chile:[[-70.4,-18.3,-69.5,-17.5,-68.5,-20,-67,-23,-68.5,-27,-70,-33,-70.5,-36,-71.5,-39.5,-71.7,-44,-72.5,-49,-72.3,-52,-68.3,-52.3,-70,-53.5,-74,-52.5,-75.5,-48,-73,-42,-73.5,-38,-71.5,-32,-70.5,-25],[-68.6,-52.7,-68.6,-54.9,-71,-55,-74,-53.5]],
Falkland:[[-61,-51.7,-58,-51.4,-58.5,-52.2,-60.5,-52.2]],
Kerguelen:[[68.8,-49.2,70.5,-49,69.5,-49.7]]
};

// lakes that show up as white gaps in the land
const lakes = [
  [-92,46.7,-90,47.7,-88.4,48.4,-86,48.7,-84.8,47.5,-84.8,46.6,-87,46.5,-90,46.6],
  [-87.8,42,-86.5,42,-86.2,44,-85,45.8,-86.5,45.8,-87.8,44.5],
  [-84.5,46,-81.5,46,-80,44.7,-81.7,43.2,-82.5,43,-83.5,44,-83.3,45,-84.5,45.8],
  [-83.4,41.7,-82,41.5,-78.9,42.8,-80.5,42.6,-83,42.1],
  [-79.7,43.3,-76.3,43.5,-76.3,44.1,-79,43.9],
  [-124.5,65.5,-121,67,-118,66.3,-120,65,-119,64.8,-123,65.2],
  [-117,61,-113,62,-109,62.7,-111,62,-114,60.9],
  [-111,58.8,-109,59.5,-106.5,59.3,-109,58.9],
  [-103.5,57.5,-102.5,57.5,-102.5,56.5],
  [-99.5,53.5,-98,54,-96.5,51,-97,50.5,-98,52],
  [-113,41.4,-112.2,41.4,-112.4,40.8],
  [30.5,60,32.5,61,31.5,61.7,30.5,61],
  [34.5,61,36,61.5,35.5,62.5,34.5,62.5],
  [103.8,51.6,105.5,51.6,108,53.5,110,55.9,109,55.9,106,53.2],
  [73.8,45.6,74.3,46.8,79.4,47,79.2,46.3,75,45.9],
  [58.3,44,58.5,46,61,46.8,60.3,45,59,43.6],
  [12.5,58.5,14,58.8,13.5,59.4,12.6,59.2]
];

const W = 1200, H = 800;
const MAP = { LEFT: 80, RIGHT: 1110, TOP: 152, BOTTOM: 667 };
const BAR = { LEFT: 1141, WIDTH: 30, TOP: 109.5, ZERO: 709 };
const LAND_COLOR = '#E5ECF6';

const x = d3.scaleLinear().domain([-180, 180]).range([MAP.LEFT, MAP.RIGHT]);
const y = d3.scaleLinear().domain([90, -90]).range([MAP.TOP, MAP.BOTTOM]);
const color = d3.scaleLinear().domain(orRd.map((c, i) => i * 6 / (orRd.length - 1))).range(orRd);
const barY = d3.scaleLinear().domain([0, 6]).range([BAR.ZERO, BAR.TOP]);

const toRings = flat => flat.map(r => {
  const pts = d3.range(0, r.length, 2).map(i => [r[i], r[i + 1]]);
  pts.push(pts[0]);
  return [pts];
});

const path = d3.geoPath(d3.geoTransform({
  point(lon, lat) { this.stream.point(x(lon), y(lat)); }
}));

const valueOf = new Map(emitters.map((c, i) => [c, emitterValues[i]]));
const features = Object.keys(shapes).map(name => ({
  type: 'Feature',
  properties: { name },
  geometry: { type: 'MultiPolygon', coordinates: toRings(shapes[name]) }
}));

const svg = d3.select('#chart').append('svg').attr('width', W).attr('height', H);

svg.append('clipPath').attr('id', 'map-clip').append('rect')
  .attr('x', MAP.LEFT).attr('y', MAP.TOP)
  .attr('width', MAP.RIGHT - MAP.LEFT).attr('height', MAP.BOTTOM - MAP.TOP);

const map = svg.append('g').attr('clip-path', 'url(#map-clip)');

map.selectAll('path.country').data(features).join('path')
  .attr('class', 'country')
  .attr('d', path)
  .attr('fill', d => {
    const n = d.properties.name;
    if (noDataCountries.includes(n)) return LAND_COLOR;
    return valueOf.has(n) ? color(valueOf.get(n)) : '#fff';
  })
  .attr('stroke', '#444')
  .attr('stroke-width', 1)
  .attr('stroke-linejoin', 'round');

map.selectAll('path.lake').data(lakes).join('path')
  .attr('class', 'lake')
  .attr('d', r => path({ type: 'MultiPolygon', coordinates: toRings([r]) }))
  .attr('fill', '#fff');

svg.append('rect')
  .attr('x', MAP.LEFT).attr('y', MAP.TOP)
  .attr('width', MAP.RIGHT - MAP.LEFT).attr('height', MAP.BOTTOM - MAP.TOP)
  .attr('fill', 'none').attr('stroke', '#444').attr('stroke-width', 1);

// colorbar
svg.selectAll('rect.step').data(d3.pairs(barLevels)).join('rect')
  .attr('class', 'step')
  .attr('x', BAR.LEFT).attr('width', BAR.WIDTH)
  .attr('y', d => barY(d[0]))
  .attr('height', d => barY(d[1]) - barY(d[0]) + .5)
  .attr('fill', d => color((d[0] + d[1]) / 2));

const barAxis = svg.append('g')
  .attr('transform', `translate(${BAR.LEFT + BAR.WIDTH},0)`)
  .call(d3.axisRight(barY).tickValues(barTicks).tickFormat(d3.format('d')).tickSize(0).tickPadding(4));
barAxis.select('.domain').remove();
barAxis.selectAll('text').attr('font-size', 12).style('font-family', '"DejaVu Sans", Verdana, sans-serif');

svg.append('text').attr('x', 600).attr('y', 50).attr('text-anchor', 'middle')
  .attr('font-size', 17.1).text(titleText);
svg.append('text').attr('x', 103).attr('y', 714).attr('font-size', 12.3).text(noteText);
</script>
</body>
</html>
